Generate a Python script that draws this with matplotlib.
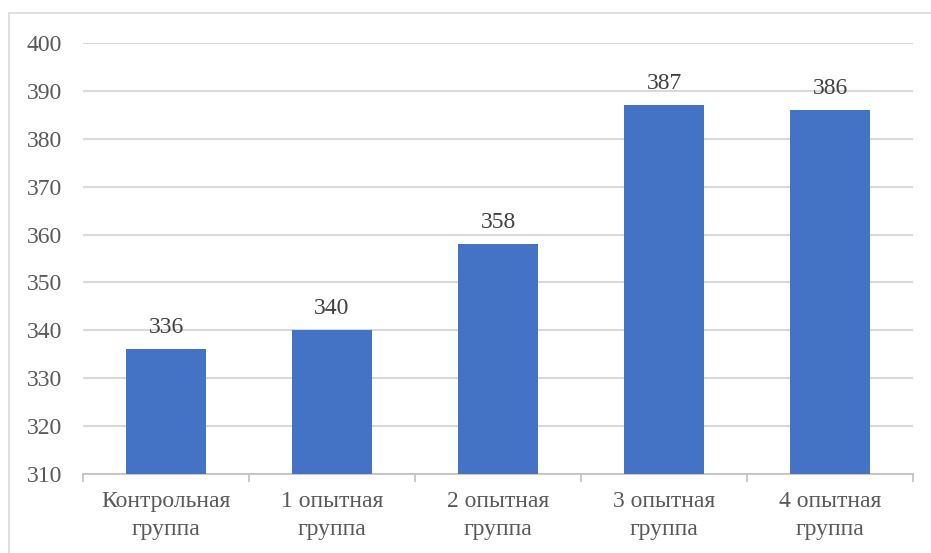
import matplotlib
matplotlib.use("Agg")
import matplotlib.pyplot as plt
from matplotlib.patches import Rectangle

groups = ["Контрольная\nгруппа", "1 опытная\nгруппа", "2 опытная\nгруппа",
          "3 опытная\nгруппа", "4 опытная\nгруппа"]
values = [336, 340, 358, 387, 386]
y_ticks = [310, 320, 330, 340, 350, 360, 370, 380, 390, 400]

plt.rcParams['font.family'] = ['Liberation Serif', 'DejaVu Serif']

fig = plt.figure(figsize=(9.31, 5.53), dpi=100)
ax = fig.add_axes([83 / 931, 1 - 474 / 553, 830 / 931, 431 / 553])

# outer chart frame
fig.patches.append(Rectangle((9 / 931, -0.1), 1.1, 1 - 13 / 553 + 0.1,
                             transform=fig.transFigure, fill=False,
                             edgecolor='#d9d9d9', linewidth=1.2))

x = range(len(values))
bars = ax.bar(x, values, width=0.48, color='#4472c4', zorder=3)
for b, v in zip(bars, values):
    ax.text(b.get_x() + b.get_width() / 2, v + 2.4, str(v), ha='center', va='bottom',
            fontsize=17, color='#404040', zorder=4)

ax.set_ylim(310, 400)
ax.set_xlim(-0.5, len(values) - 0.5)
ax.set_yticks(y_ticks)
ax.yaxis.grid(True, color='#d9d9d9', linewidth=1.5, zorder=0)
ax.tick_params(axis='y', length=0, pad=15, labelsize=17, labelcolor='#595959')

ax.set_xticks([i - 0.5 for i in range(len(values) + 1)], minor=False)
ax.set_xticklabels([])
ax.set_xticks(list(x), minor=True)
ax.set_xticklabels(groups, minor=True, linespacing=1.45)
ax.tick_params(axis='x', which='major', length=6, color='#bfbfbf', width=1.2)
ax.tick_params(axis='x', which='minor', length=0, pad=12, labelsize=17, labelcolor='#595959')

for side in ['top', 'right', 'left']:
    ax.spines[side].set_visible(False)
ax.spines['bottom'].set_color('#bfbfbf')
ax.spines['bottom'].set_linewidth(1.2)

fig.savefig("out.png", dpi=100)
